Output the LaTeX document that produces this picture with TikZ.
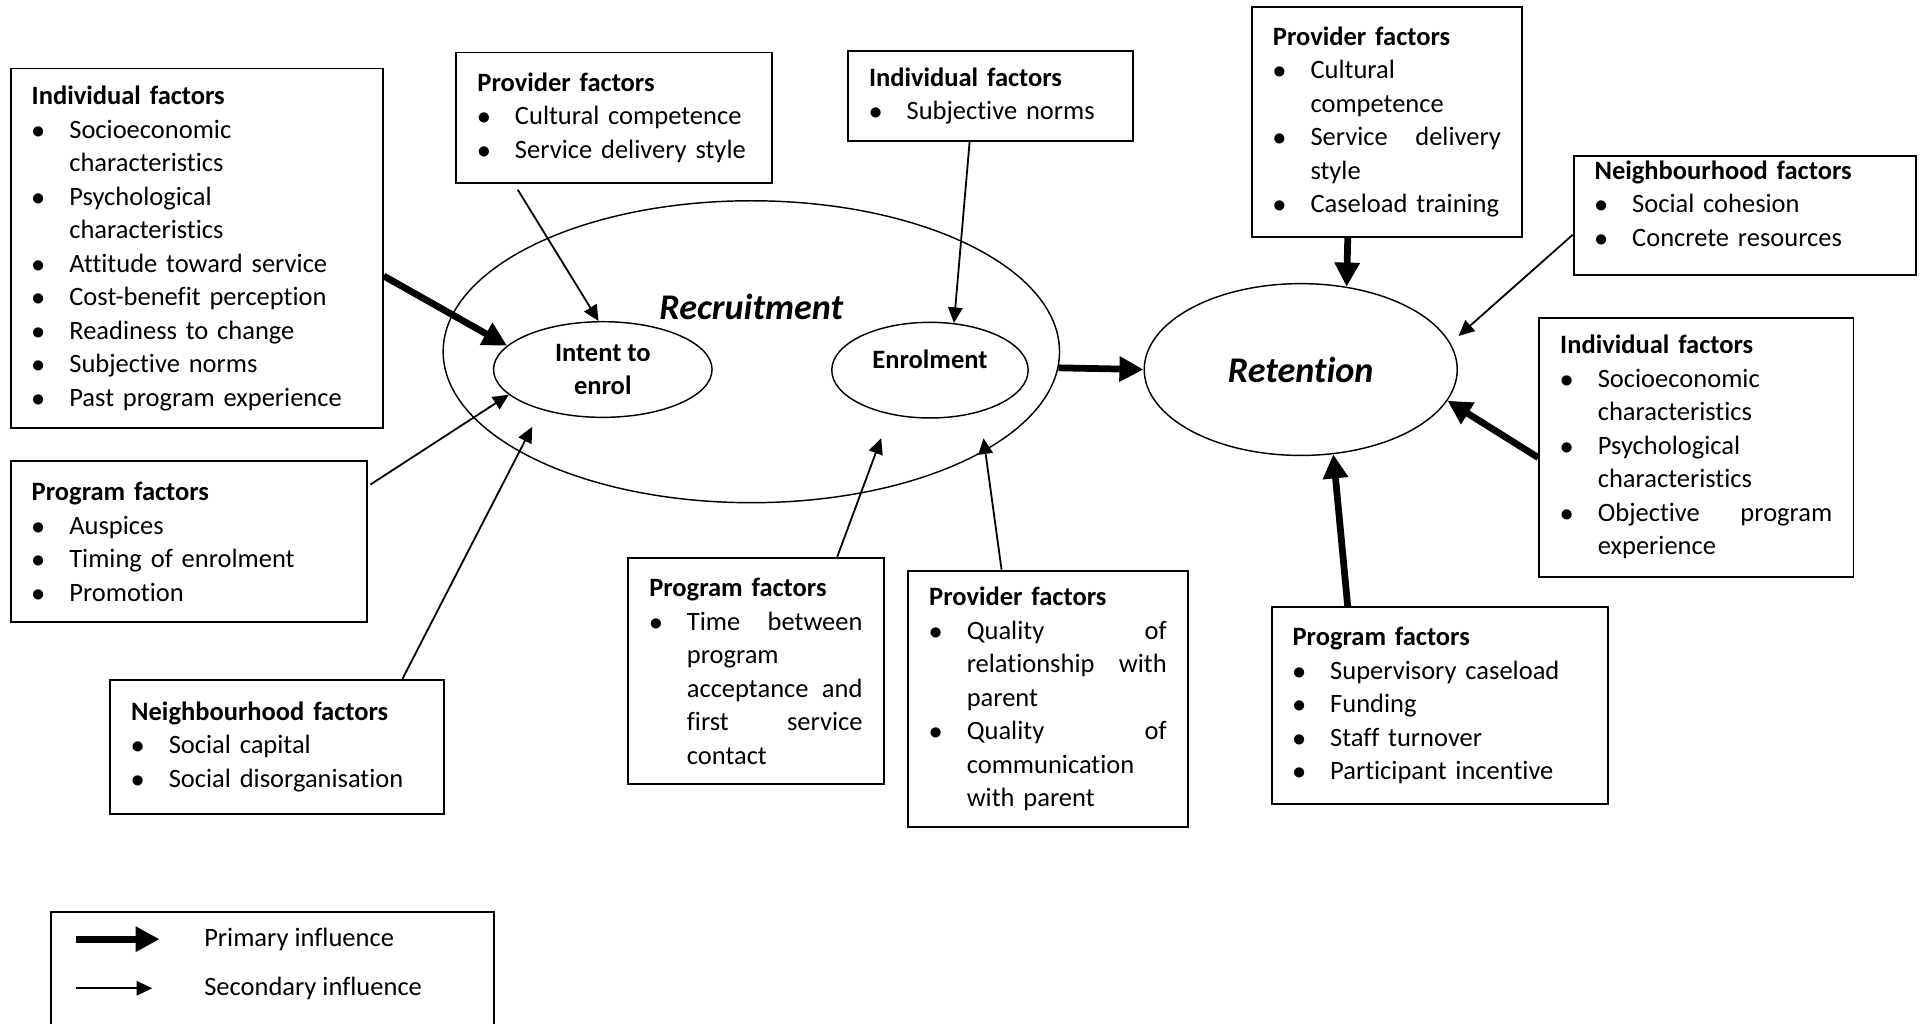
\documentclass[tikz,border=0pt]{standalone}
\usepackage{fontspec}
\setmainfont{Carlito}[Ligatures={NoCommon,NoContextual}, Contextuals=NoAlternate]
\usetikzlibrary{shapes.geometric,arrows.meta}

\newcommand{\bodyf}{\fontsize{11pt}{13.9pt}\selectfont}
\newlength{\bulw}
\setlength{\bulw}{15.6pt}
\newcommand{\bul}{\makebox[\bulw][l]{$\bullet$}}
\newcommand{\cont}{\hspace*{\bulw}}

\begin{document}
\begin{tikzpicture}[x=0.5095pt, y=-0.5095pt, font=\bodyf,
  factor/.style={draw, line width=0.8pt, anchor=north west, align=left,
    inner xsep=8.7pt, inner ysep=2pt},
  stage/.style={draw, ellipse, line width=0.6pt, inner sep=0pt},
  primary/.style={line width=2.8pt, -{Triangle[length=10pt,width=10pt]}},
  secondary/.style={line width=0.75pt, -{Triangle[length=6.5pt,width=6pt]}}]

  \useasboundingbox (0,0) rectangle (1568,834);
  \fill[white] (0,0) rectangle (1568,834);

  % recruitment and retention
  \node[stage, minimum width=255.8pt, minimum height=125.3pt] (rec) at (612,286.5) {};
  \node[font=\fontsize{15pt}{18pt}\selectfont\bfseries\itshape] (rtit) at (612,250) {Recruitment};
  \node[stage, minimum width=90.7pt, minimum height=39.7pt, align=center,
    font=\bodyf\bfseries] (itt) at (491,301) {Intent to\\enrol};
  \node[stage, minimum width=81.5pt, minimum height=39.7pt, text depth=9pt,
    font=\bodyf\bfseries] (enr) at (757.5,301.5) {Enrolment};
  \node[stage, minimum width=129.9pt, minimum height=71.3pt,
    font=\fontsize{15pt}{18pt}\selectfont\bfseries\itshape] (ret) at (1059.5,301) {Retention};

  % factor boxes
  \node[factor, text width=137pt, minimum height=149.3pt] (ind1) at (8,55) {\textbf{Individual factors}\\
    \bul Socioeconomic\\ \cont characteristics\\
    \bul Psychological\\ \cont characteristics\\
    \bul Attitude toward service\\
    \bul Cost-benefit perception\\
    \bul Readiness to change\\
    \bul Subjective norms\\
    \bul Past program experience};
  \node[factor, text width=113.5pt, minimum height=54pt] (pro1) at (371,42) {\textbf{Provider factors}\\
    \bul Cultural competence\\
    \bul Service delivery style};
  \node[factor, text width=100.8pt, minimum height=37.2pt] (ind2) at (690,41) {\textbf{Individual factors}\\
    \bul Subjective norms};
  \node[factor, text width=130.4pt, minimum height=66.7pt] (prg1) at (8,375) {\textbf{Program factors}\\
    \bul Auspices\\
    \bul Timing of enrolment\\
    \bul Promotion};
  \node[factor, text width=121.2pt, minimum height=55.5pt] (nbh1) at (89,553) {\textbf{Neighbourhood factors}\\
    \bul Social capital\\
    \bul Social disorganisation};
  \node[factor, text width=88.6pt, minimum height=93.7pt] (prg2) at (511,454) {\textbf{Program factors}\\
    \bul\makebox[72.9pt][s]{Time\hfill between}\\
    \cont program\\
    \cont\makebox[72.9pt][s]{acceptance\hfill and}\\
    \cont\makebox[72.9pt][s]{first\hfill service}\\
    \cont contact};
  \node[factor, text width=98.8pt, minimum height=106.5pt] (pro2) at (739,464) {\textbf{Provider factors}\\
    \bul\makebox[83pt][s]{Quality\hfill of}\\
    \cont\makebox[83pt][s]{relationship\hfill with}\\
    \cont parent\\
    \bul\makebox[83pt][s]{Quality\hfill of}\\
    \cont communication\\
    \cont with parent};
  \node[factor, text width=94.7pt, minimum height=95.3pt] (pro3) at (1019,5) {\textbf{Provider factors}\\
    \bul Cultural\\ \cont competence\\
    \bul\makebox[79pt][s]{Service\hfill delivery}\\ \cont style\\
    \bul Caseload training};
  \node[factor, text width=124.8pt, minimum height=48.9pt] (nbh2) at (1281,126) {\textbf{Neighbourhood factors}\\
    \bul Social cohesion\\
    \bul Concrete resources\\[-4pt]\mbox{}};
  \node[factor, text width=113pt, minimum height=107.5pt] (ind3) at (1253,258) {\textbf{Individual factors}\\
    \bul Socioeconomic\\ \cont characteristics\\
    \bul Psychological\\ \cont characteristics\\
    \bul\makebox[97.3pt][s]{Objective\hfill program}\\ \cont experience};
  \node[factor, text width=122.2pt, minimum height=81.5pt] (prg3) at (1035,494) {\textbf{Program factors}\\
    \bul Supervisory caseload\\
    \bul Funding\\
    \bul Staff turnover\\
    \bul Participant incentive};

  % influences
  \draw[primary] ([shift={(0,22.5)}]ind1.east) -- (itt.166);
  \draw[secondary] ([shift={(-78.5,5)}]pro1.south) -- (itt.95);
  \draw[secondary] ([shift={(-17,0)}]ind2.south) -- (enr.63);
  \draw[secondary] ([shift={(2,-46.5)}]prg1.east) -- (itt.195);
  \draw[secondary, shorten >=8pt] ([shift={(102,0)}]nbh1.north) -- (itt.213);
  \draw[secondary, shorten >=10.5pt] ([shift={(66,0)}]prg2.north) -- (enr.228.5);
  \draw[secondary, shorten >=11pt] ([shift={(-38,0)}]pro2.north) -- (enr.320);
  \draw[primary] (rec.-3) -- (ret.west);
  \draw[primary] ([shift={(-32,0)}]pro3.south) -- (ret.61);
  \draw[secondary, shorten >=4.5pt] ([shift={(0,16)}]nbh2.west) -- (ret.10.7);
  \draw[primary] ([shift={(0,8.5)}]ind3.west) -- (ret.-12.4);
  \draw[primary] ([shift={(-75,0)}]prg3.north) -- (ret.-69);

  % legend
  \node[draw, line width=0.8pt, anchor=north west, minimum width=183.9pt,
    minimum height=60pt, inner sep=0pt] (leg) at (41,742) {};
  \coordinate (p0) at (62,765);
  \coordinate (p1) at (130,765);
  \coordinate (s0) at (62,805);
  \coordinate (s1) at (124,805);
  \draw[primary] (p0) -- (p1);
  \draw[secondary] (s0) -- (s1);
  \node[anchor=west, inner sep=0pt] (plab) at (166,765) {Primary influence};
  \node[anchor=west, inner sep=0pt] (slab) at (166,805) {Secondary influence};
\end{tikzpicture}
\end{document}
